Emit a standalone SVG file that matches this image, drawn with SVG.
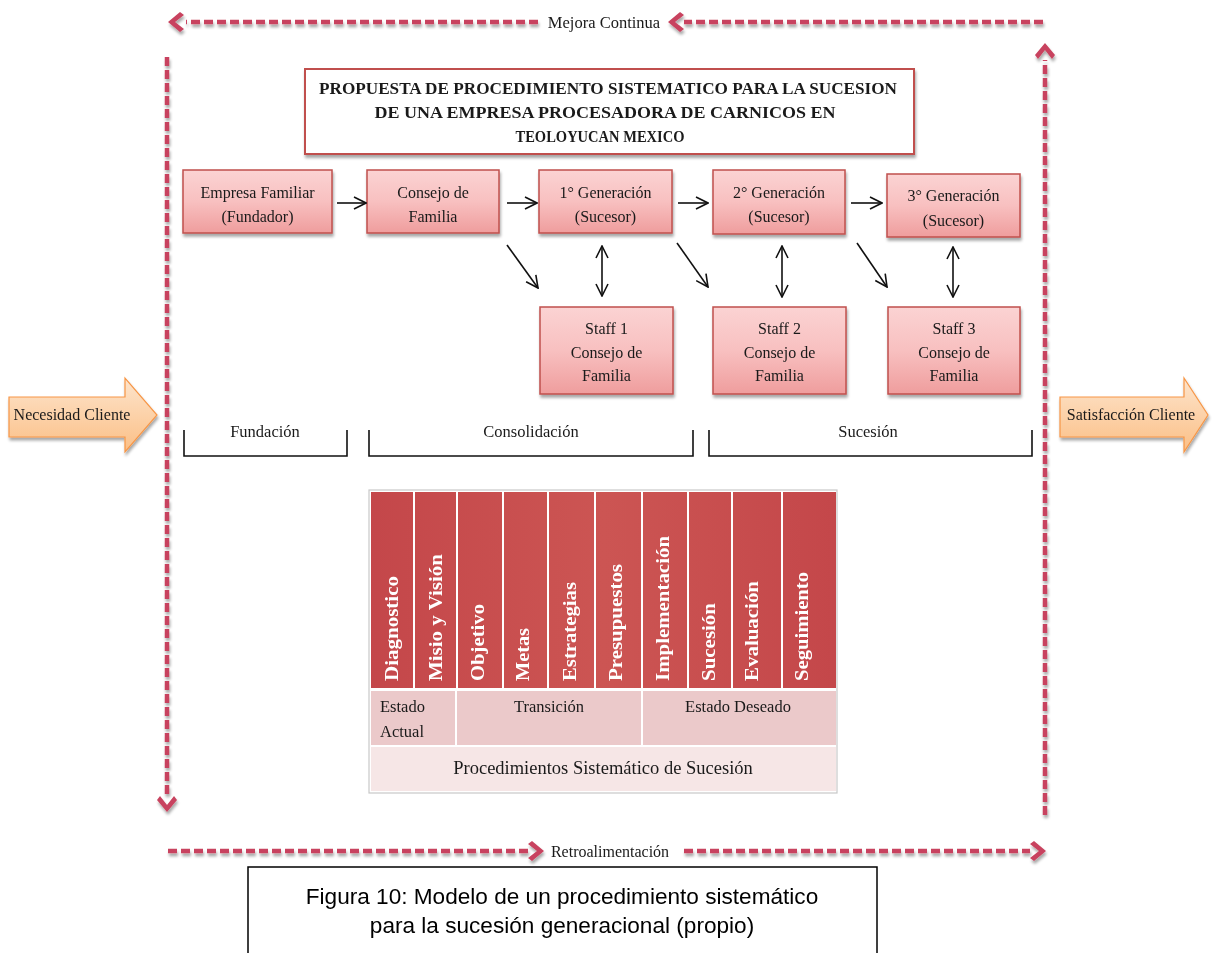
<svg xmlns="http://www.w3.org/2000/svg" xmlns:xlink="http://www.w3.org/1999/xlink" width="1212" height="953" viewBox="0 0 1212 953">
  <style>
    .serif { font-family: "Liberation Serif", "Times New Roman", serif; fill: #1a1a1a; }
    .node-text { font-size: 16px; text-anchor: middle; }
    .label { font-size: 16.5px; text-anchor: middle; }
    .title { font-size: 16.5px; font-weight: bold; text-anchor: middle; }
    .box { fill: url(#pinkGrad); stroke: #c0504d; stroke-width: 1.5; filter: url(#shadow); }
    .loop { stroke: #c8435e; stroke-width: 4.5; stroke-dasharray: 9 4; fill: none; }
    .chev { fill: #c8435e; }
    .conn { stroke: #111; stroke-width: 1.6; fill: none; }
    .bracket { stroke: #111; stroke-width: 1.6; fill: none; }
    .sep { stroke: #ffffff; stroke-width: 2; }
    .vtext { font-family: "Liberation Serif", "Times New Roman", serif; font-size: 18.5px; font-weight: bold; fill: #ffffff; }
    .flow { fill: url(#peachGrad); stroke: #f79646; stroke-width: 1.2; filter: url(#shadow); }
  </style>
  <defs>
    <linearGradient id="pinkGrad" x1="0" y1="0" x2="0" y2="1">
      <stop offset="0" stop-color="#fbd3d3"/>
      <stop offset="0.5" stop-color="#f8c0c0"/>
      <stop offset="1" stop-color="#ef9d9d"/>
    </linearGradient>
    <linearGradient id="peachGrad" x1="0" y1="0" x2="0" y2="1">
      <stop offset="0" stop-color="#fde4cc"/>
      <stop offset="1" stop-color="#fbbf86"/>
    </linearGradient>
    <linearGradient id="headGrad" x1="0" y1="0" x2="1" y2="0">
      <stop offset="0" stop-color="#c4474a"/>
      <stop offset="0.5" stop-color="#cc5553"/>
      <stop offset="1" stop-color="#c4474a"/>
    </linearGradient>
    <filter id="shadow" x="-20%" y="-20%" width="140%" height="160%">
      <feGaussianBlur in="SourceAlpha" stdDeviation="1.6"/>
      <feOffset dx="1" dy="2.5" result="b"/>
      <feComponentTransfer><feFuncA type="linear" slope="0.35"/></feComponentTransfer>
      <feMerge><feMergeNode/><feMergeNode in="SourceGraphic"/></feMerge>
    </filter>
    <!-- shadow for thin lines: region fixed in user space so zero-height lines still render -->
    <filter id="lineShadow" filterUnits="userSpaceOnUse" x="0" y="0" width="1212" height="953">
      <feGaussianBlur in="SourceAlpha" stdDeviation="1.4"/>
      <feOffset dx="1" dy="2.5" result="b"/>
      <feComponentTransfer><feFuncA type="linear" slope="0.35"/></feComponentTransfer>
      <feMerge><feMergeNode/><feMergeNode in="SourceGraphic"/></feMerge>
    </filter>
    <!-- chevron arrowhead pointing left, tip at origin -->
    <path id="chev" d="M0,0 L12,-10 L16,-7 L7,0 L16,7 L12,10 Z"/>
    <marker id="open" viewBox="0 0 14 14" refX="13" refY="7" markerWidth="14" markerHeight="14" markerUnits="userSpaceOnUse" orient="auto-start-reverse">
      <path d="M1,1 L13,7 L1,13" fill="none" stroke="#111" stroke-width="1.6"/>
    </marker>
  </defs>

  <!-- continuous improvement / feedback loop -->
  <g id="loop" filter="url(#lineShadow)">
    <line class="loop" x1="1043" y1="22" x2="684" y2="22"/>
    <use class="chev" xlink:href="#chev" transform="translate(668,22)"/>
    <line class="loop" x1="538" y1="22" x2="186" y2="22"/>
    <use class="chev" xlink:href="#chev" transform="translate(168,22)"/>

    <line class="loop" x1="167" y1="57" x2="167" y2="797"/>
    <use class="chev" xlink:href="#chev" transform="translate(167,812) rotate(-90)"/>

    <line class="loop" x1="168" y1="851" x2="528" y2="851"/>
    <use class="chev" xlink:href="#chev" transform="translate(544,851) rotate(180)"/>
    <line class="loop" x1="684" y1="851" x2="1030" y2="851"/>
    <use class="chev" xlink:href="#chev" transform="translate(1046,851) rotate(180)"/>

    <line class="loop" x1="1045" y1="815" x2="1045" y2="60"/>
    <use class="chev" xlink:href="#chev" transform="translate(1045,43) rotate(90)"/>
  </g>
  <g id="loop-labels">
    <text class="serif label" x="604" y="28">Mejora Continua</text>
    <text class="serif" x="610" y="857" font-size="16" text-anchor="middle">Retroalimentación</text>
  </g>

  <!-- customer need / satisfaction -->
  <g id="necesidad">
    <polygon class="flow" points="9,397 125,397 125,378 157,415 125,452 125,437 9,437"/>
    <text class="serif" x="72" y="420" font-size="16" text-anchor="middle">Necesidad Cliente</text>
  </g>
  <g id="satisfaccion">
    <polygon class="flow" points="1060,397 1184,397 1184,378 1208,415 1184,452 1184,437 1060,437"/>
    <text class="serif" x="1131" y="420" font-size="16" text-anchor="middle">Satisfacción Cliente</text>
  </g>

  <!-- title -->
  <g id="titulo">
    <rect x="305" y="69" width="609" height="85" fill="#ffffff" stroke="#c0504d" stroke-width="2" filter="url(#shadow)"/>
    <text class="serif title" x="608" y="94" textLength="578" lengthAdjust="spacingAndGlyphs">PROPUESTA DE PROCEDIMIENTO SISTEMATICO PARA LA  SUCESION</text>
    <text class="serif title" x="605" y="118" textLength="461" lengthAdjust="spacingAndGlyphs">DE UNA EMPRESA PROCESADORA DE CARNICOS EN</text>
    <text class="serif title" x="600" y="142" textLength="169" lengthAdjust="spacingAndGlyphs">TEOLOYUCAN MEXICO</text>
  </g>

  <!-- main row -->
  <g id="empresa">
    <rect class="box" x="183" y="170" width="149" height="63"/>
    <text class="serif node-text" x="257.5" y="198">Empresa Familiar</text>
    <text class="serif node-text" x="257.5" y="222">(Fundador)</text>
  </g>
  <g id="consejo">
    <rect class="box" x="367" y="170" width="132" height="63"/>
    <text class="serif node-text" x="433" y="198">Consejo de</text>
    <text class="serif node-text" x="433" y="222">Familia</text>
  </g>
  <g id="gen1">
    <rect class="box" x="539" y="170" width="133" height="63"/>
    <text class="serif node-text" x="605.5" y="198">1° Generación</text>
    <text class="serif node-text" x="605.5" y="222">(Sucesor)</text>
  </g>
  <g id="gen2">
    <rect class="box" x="713" y="170" width="132" height="64"/>
    <text class="serif node-text" x="779" y="198">2° Generación</text>
    <text class="serif node-text" x="779" y="222">(Sucesor)</text>
  </g>
  <g id="gen3">
    <rect class="box" x="887" y="174" width="133" height="63"/>
    <text class="serif node-text" x="953.5" y="201">3° Generación</text>
    <text class="serif node-text" x="953.5" y="226">(Sucesor)</text>
  </g>

  <!-- staff row -->
  <g id="staff1">
    <rect class="box" x="540" y="307" width="133" height="87"/>
    <text class="serif node-text" x="606.5" y="334">Staff 1</text>
    <text class="serif node-text" x="606.5" y="358">Consejo de</text>
    <text class="serif node-text" x="606.5" y="381">Familia</text>
  </g>
  <g id="staff2">
    <rect class="box" x="713" y="307" width="133" height="87"/>
    <text class="serif node-text" x="779.5" y="334">Staff 2</text>
    <text class="serif node-text" x="779.5" y="358">Consejo de</text>
    <text class="serif node-text" x="779.5" y="381">Familia</text>
  </g>
  <g id="staff3">
    <rect class="box" x="888" y="307" width="132" height="87"/>
    <text class="serif node-text" x="954" y="334">Staff 3</text>
    <text class="serif node-text" x="954" y="358">Consejo de</text>
    <text class="serif node-text" x="954" y="381">Familia</text>
  </g>

  <!-- connectors -->
  <g id="connectors">
    <line class="conn" x1="337" y1="203" x2="366" y2="203" marker-end="url(#open)"/>
    <line class="conn" x1="507" y1="203" x2="537" y2="203" marker-end="url(#open)"/>
    <line class="conn" x1="678" y1="203" x2="708" y2="203" marker-end="url(#open)"/>
    <line class="conn" x1="851" y1="203" x2="882" y2="203" marker-end="url(#open)"/>

    <line class="conn" x1="507" y1="245" x2="538" y2="288" marker-end="url(#open)"/>
    <line class="conn" x1="677" y1="243" x2="708" y2="287" marker-end="url(#open)"/>
    <line class="conn" x1="857" y1="243" x2="887" y2="287" marker-end="url(#open)"/>

    <line class="conn" x1="602" y1="246" x2="602" y2="296" marker-start="url(#open)" marker-end="url(#open)"/>
    <line class="conn" x1="782" y1="246" x2="782" y2="297" marker-start="url(#open)" marker-end="url(#open)"/>
    <line class="conn" x1="953" y1="247" x2="953" y2="297" marker-start="url(#open)" marker-end="url(#open)"/>
  </g>

  <!-- phase brackets -->
  <g id="fases">
    <path class="bracket" d="M184,430 V456 H347 V430"/>
    <text class="serif label" x="265" y="437">Fundación</text>
    <path class="bracket" d="M369,430 V456 H693 V430"/>
    <text class="serif label" x="531" y="437">Consolidación</text>
    <path class="bracket" d="M709,430 V456 H1032 V430"/>
    <text class="serif label" x="868" y="437">Sucesión</text>
  </g>

  <!-- procedure table -->
  <g id="tabla">
    <rect x="369" y="490" width="468" height="303" fill="#ffffff" stroke="#c8c8c8" stroke-width="1.2"/>
    <rect x="371" y="492" width="465" height="196" fill="url(#headGrad)"/>
    <g>
      <line class="sep" x1="414" y1="492" x2="414" y2="688"/>
      <line class="sep" x1="457" y1="492" x2="457" y2="688"/>
      <line class="sep" x1="503" y1="492" x2="503" y2="688"/>
      <line class="sep" x1="548" y1="492" x2="548" y2="688"/>
      <line class="sep" x1="595" y1="492" x2="595" y2="688"/>
      <line class="sep" x1="642" y1="492" x2="642" y2="688"/>
      <line class="sep" x1="688" y1="492" x2="688" y2="688"/>
      <line class="sep" x1="732" y1="492" x2="732" y2="688"/>
      <line class="sep" x1="782" y1="492" x2="782" y2="688"/>
    </g>
    <text class="vtext" transform="translate(398,681) rotate(-90)" textLength="105" lengthAdjust="spacingAndGlyphs">Diagnostico</text>
    <text class="vtext" transform="translate(442,681) rotate(-90)" textLength="127" lengthAdjust="spacingAndGlyphs">Misio y Visión</text>
    <text class="vtext" transform="translate(484,681) rotate(-90)" textLength="77" lengthAdjust="spacingAndGlyphs">Objetivo</text>
    <text class="vtext" transform="translate(529,681) rotate(-90)" textLength="53" lengthAdjust="spacingAndGlyphs">Metas</text>
    <text class="vtext" transform="translate(576,681) rotate(-90)" textLength="99" lengthAdjust="spacingAndGlyphs">Estrategias</text>
    <text class="vtext" transform="translate(622,681) rotate(-90)" textLength="117" lengthAdjust="spacingAndGlyphs">Presupuestos</text>
    <text class="vtext" transform="translate(669,681) rotate(-90)" textLength="145" lengthAdjust="spacingAndGlyphs">Implementación</text>
    <text class="vtext" transform="translate(715,681) rotate(-90)" textLength="78" lengthAdjust="spacingAndGlyphs">Sucesión</text>
    <text class="vtext" transform="translate(758,681) rotate(-90)" textLength="100" lengthAdjust="spacingAndGlyphs">Evaluación</text>
    <text class="vtext" transform="translate(808,681) rotate(-90)" textLength="109" lengthAdjust="spacingAndGlyphs">Seguimiento</text>

    <rect x="371" y="691" width="84" height="54" fill="#ebc9ca"/>
    <rect x="457" y="691" width="184" height="54" fill="#ebc9ca"/>
    <rect x="643" y="691" width="193" height="54" fill="#ebc9ca"/>
    <text class="serif" x="380" y="712" font-size="16.5">Estado</text>
    <text class="serif" x="380" y="737" font-size="16.5">Actual</text>
    <text class="serif" x="549" y="712" font-size="16.5" text-anchor="middle">Transición</text>
    <text class="serif" x="738" y="712" font-size="16.5" text-anchor="middle">Estado Deseado</text>

    <rect x="371" y="747" width="465" height="44" fill="#f6e6e6"/>
    <text class="serif" x="603" y="774" font-size="18.5" text-anchor="middle">Procedimientos Sistemático de Sucesión</text>
  </g>

  <!-- caption -->
  <g id="caption">
    <rect x="248" y="867" width="629" height="100" fill="#ffffff" stroke="#000000" stroke-width="1.5"/>
    <text x="562" y="904" font-family="Liberation Sans, Arial, sans-serif" font-size="22.6" text-anchor="middle" fill="#000">Figura 10: Modelo de un procedimiento sistemático</text>
    <text x="562" y="933" font-family="Liberation Sans, Arial, sans-serif" font-size="22.6" text-anchor="middle" fill="#000">para la sucesión generacional (propio)</text>
  </g>
</svg>
